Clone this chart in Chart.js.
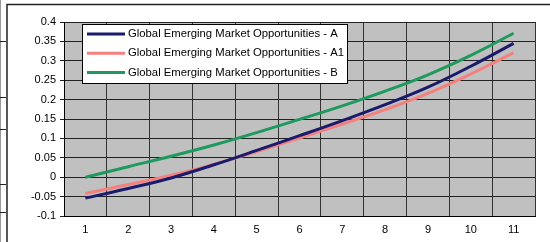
<!DOCTYPE html>
<html>
<head>
<meta charset="utf-8">
<script src="https://cdn.jsdelivr.net/npm/chart.js@4/dist/chart.umd.min.js"></script>
<style>
  html, body { margin: 0; padding: 0; background: #fff; }
  #wrap { width: 550px; height: 242px; }
</style>
</head>
<body>
<div id="wrap"><canvas id="chart" width="550" height="242"></canvas></div>
<script>
// values
const periods = ['1', '2', '3', '4', '5', '6', '7', '8', '9', '10', '11'];
const seriesA  = [-0.054, -0.029, -0.002, 0.032, 0.069, 0.107, 0.146, 0.187, 0.232, 0.286, 0.345];
const seriesA1 = [-0.042, -0.019, 0.005, 0.033, 0.066, 0.101, 0.137, 0.174, 0.216, 0.266, 0.321];
const seriesB  = [0.000, 0.027, 0.054, 0.083, 0.115, 0.149, 0.184, 0.222, 0.264, 0.314, 0.371];
const seriesNames = [
    'Global Emerging Market Opportunities - A',
    'Global Emerging Market Opportunities - A1',
    'Global Emerging Market Opportunities - B'
];
const yMin = -0.1, yMax = 0.4, yStep = 0.05;

const FONT = '"Liberation Sans", Arial, sans-serif';

// white page, plot background and the bits of sheet border around the chart
const frame = {
    id: 'frame',
    beforeDraw(chart) {
        const c = chart.ctx, a = chart.chartArea;
        c.save();
        c.fillStyle = '#fff';
        c.fillRect(0, 0, chart.width, chart.height);
        c.fillStyle = '#c0c0c0';
        c.fillRect(a.left, a.top, a.right - a.left, a.bottom - a.top);
        c.strokeStyle = '#222';
        c.lineWidth = 1.5;
        c.beginPath();
        c.moveTo(7, 242); c.lineTo(7, 4.5); c.lineTo(550, 4.5);
        c.stroke();
        c.strokeStyle = '#999';
        c.lineWidth = 1;
        c.beginPath();
        c.moveTo(0.5, 0); c.lineTo(0.5, 242);
        c.stroke();
        c.strokeStyle = '#222';
        [41, 97, 129, 184, 212].forEach(y => {
            c.beginPath(); c.moveTo(0, y + 0.5); c.lineTo(6, y + 0.5); c.stroke();
        });
        c.restore();
    }
};

// legend box drawn inside the plot, like the original
const boxLegend = {
    id: 'boxLegend',
    afterDatasetsDraw(chart) {
        const c = chart.ctx;
        c.save();
        c.fillStyle = '#fff';
        c.fillRect(82, 24, 265, 59);
        c.strokeStyle = '#000';
        c.lineWidth = 1;
        c.strokeRect(82.5, 24.5, 265, 59);
        c.font = '11.3px ' + FONT;
        c.textBaseline = 'middle';
        chart.data.datasets.forEach((ds, i) => {
            const y = 34 + 19.3 * i;
            c.strokeStyle = ds.borderColor;
            c.lineWidth = 3;
            c.beginPath(); c.moveTo(87, y); c.lineTo(125, y); c.stroke();
            c.fillStyle = '#000';
            c.fillText(ds.label, 128, y);
        });
        c.restore();
    }
};

new Chart(document.getElementById('chart'), {
    type: 'line',
    data: {
        labels: periods,
        datasets: [
            { label: seriesNames[0], data: seriesA,  borderColor: '#1b1b6b' },
            { label: seriesNames[1], data: seriesA1, borderColor: '#f58080' },
            { label: seriesNames[2], data: seriesB,  borderColor: '#1f9a5f' }
        ].map(d => Object.assign(d, {
            borderWidth: 3,
            pointRadius: 0,
            fill: false,
            tension: 0.4
        }))
    },
    options: {
        responsive: false,
        animation: false,
        layout: { padding: { left: 0, top: 22, right: 15, bottom: 0 } },
        plugins: {
            legend: { display: false },
            tooltip: { enabled: false }
        },
        scales: {
            x: {
                offset: true,
                grid: { offset: true, color: '#333', lineWidth: 1, tickLength: 0 },
                border: { color: '#000' },
                ticks: { color: '#000', font: { family: FONT, size: 11 }, padding: 7, maxRotation: 0 },
                afterFit(scale) { scale.height = 26; }
            },
            y: {
                min: yMin,
                max: yMax,
                grid: { color: '#222', lineWidth: 1, tickLength: 4 },
                border: { color: '#000' },
                ticks: {
                    stepSize: yStep,
                    color: '#000',
                    font: { family: FONT, size: 11 },
                    padding: 4,
                    callback: v => String(Number(v.toFixed(2)))
                },
                afterFit(scale) { scale.width = 64; }
            }
        }
    },
    plugins: [frame, boxLegend]
});
</script>
</body>
</html>
